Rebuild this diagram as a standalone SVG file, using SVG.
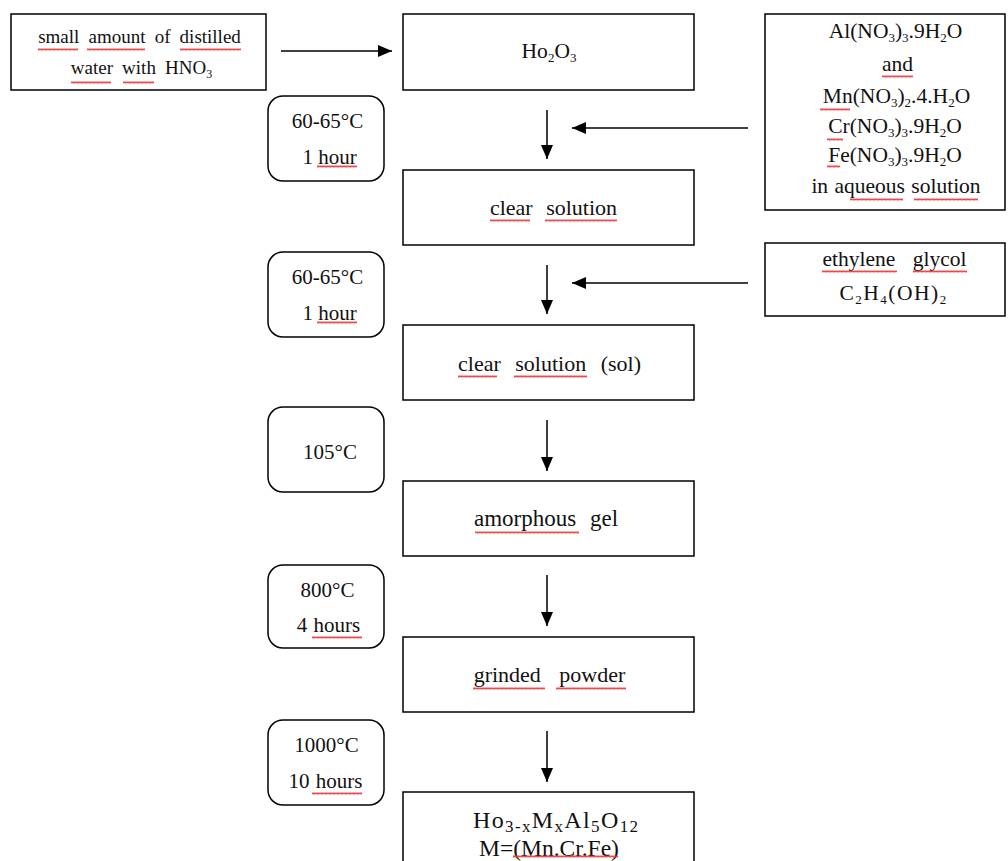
<svg xmlns="http://www.w3.org/2000/svg" width="1008" height="861" viewBox="0 0 1008 861">
<style>
.box{fill:#fff;stroke:#000;stroke-width:1.5}
.rbox{fill:#fff;stroke:#000;stroke-width:1.5}
text{font-family:"Liberation Serif","Times New Roman",serif;font-size:21px;fill:#111;text-anchor:middle}
.sub{font-size:13px}
.lt{font-size:19px;word-spacing:4.4px}
.rt{font-size:21.5px}
.mt{font-size:22px}
.conn line{stroke:#000;stroke-width:1.5}
.sq{fill:url(#zig)}
</style>
<defs>
<marker id="ah" viewBox="0 0 14 12" refX="14" refY="6" markerWidth="14" markerHeight="12" orient="auto" markerUnits="userSpaceOnUse">
<path d="M0,0 L14,6 L0,12 Z" fill="#000"/>
</marker>
<pattern id="zig" patternUnits="userSpaceOnUse" x="0" y="0" width="4" height="3">
<path d="M0,2.5 L1,0.5 L2,2.5 L3,0.5 L4,2.5" fill="none" stroke="#e33" stroke-width="0.9"/>
</pattern>
</defs>

<g id="connectors" class="conn">
<line x1="281" y1="51" x2="392" y2="51" marker-end="url(#ah)"/>
<line x1="547" y1="110" x2="547" y2="159" marker-end="url(#ah)"/>
<line x1="748" y1="128" x2="572" y2="128" marker-end="url(#ah)"/>
<line x1="547" y1="265" x2="547" y2="314" marker-end="url(#ah)"/>
<line x1="748" y1="283" x2="572" y2="283" marker-end="url(#ah)"/>
<line x1="547" y1="420" x2="547" y2="471" marker-end="url(#ah)"/>
<line x1="547" y1="575" x2="547" y2="626" marker-end="url(#ah)"/>
<line x1="547" y1="731" x2="547" y2="782" marker-end="url(#ah)"/>
</g>

<g id="water">
<rect class="box" x="11" y="14" width="255" height="76"/>
<text class="lt" x="139.5" y="43">small amount of distilled</text>
<text class="lt" x="141.5" y="74">water with HNO<tspan class="sub" style="font-size:12px" dy="4">3</tspan></text>
<rect class="sq" x="38" y="48" width="40" height="3"/>
<rect class="sq" x="87" y="48" width="58" height="3"/>
<rect class="sq" x="180" y="48" width="61" height="3"/>
<rect class="sq" x="71" y="81" width="40" height="3"/>
<rect class="sq" x="123" y="81" width="31" height="3"/>
</g>

<g id="ho2o3">
<rect class="box" x="403" y="14" width="291" height="76"/>
<text class="rt" x="549" y="58">Ho<tspan class="sub" dy="4">2</tspan><tspan dy="-4">O</tspan><tspan class="sub" dy="4">3</tspan></text>
</g>

<g id="nitrates">
<rect class="box" x="765" y="14" width="240" height="196"/>
<text class="rt" x="895.5" y="38">Al(NO<tspan class="sub" dy="4">3</tspan><tspan dy="-4">)</tspan><tspan class="sub" dy="4">3</tspan><tspan dy="-4">.9H</tspan><tspan class="sub" dy="4">2</tspan><tspan dy="-4">O</tspan></text>
<text class="rt" x="897.5" y="71">and</text>
<text class="rt" x="896.5" y="103">Mn(NO<tspan class="sub" dy="4">3</tspan><tspan dy="-4">)</tspan><tspan class="sub" dy="4">2</tspan><tspan dy="-4">.4.H</tspan><tspan class="sub" dy="4">2</tspan><tspan dy="-4">O</tspan></text>
<text class="rt" x="895" y="133">Cr(NO<tspan class="sub" dy="4">3</tspan><tspan dy="-4">)</tspan><tspan class="sub" dy="4">3</tspan><tspan dy="-4">.9H</tspan><tspan class="sub" dy="4">2</tspan><tspan dy="-4">O</tspan></text>
<text class="rt" x="895" y="162">Fe(NO<tspan class="sub" dy="4">3</tspan><tspan dy="-4">)</tspan><tspan class="sub" dy="4">3</tspan><tspan dy="-4">.9H</tspan><tspan class="sub" dy="4">2</tspan><tspan dy="-4">O</tspan></text>
<text class="rt" x="896" y="193" style="word-spacing:1px">in aqueous solution</text>
<rect class="sq" x="882" y="75" width="31" height="3"/>
<rect class="sq" x="820" y="108" width="30" height="3"/>
<rect class="sq" x="827" y="138" width="16" height="3"/>
<rect class="sq" x="827" y="165" width="13" height="3"/>
<rect class="sq" x="850" y="198" width="53" height="3"/>
<rect class="sq" x="914" y="198" width="64" height="3"/>
</g>

<g id="glycol">
<rect class="box" x="765" y="243" width="240" height="73"/>
<text class="rt" x="894.5" y="266" style="word-spacing:12px">ethylene glycol</text>
<text class="rt" x="893.5" y="300" style="letter-spacing:1.5px">C<tspan class="sub" dy="4">2</tspan><tspan dy="-4">H</tspan><tspan class="sub" dy="4">4</tspan><tspan dy="-4">(OH)</tspan><tspan class="sub" dy="4">2</tspan></text>
<rect class="sq" x="822" y="270" width="75" height="3"/>
<rect class="sq" x="913" y="270" width="54" height="3"/>
</g>

<g id="t1">
<rect class="rbox" x="268" y="96" width="116" height="85" rx="15"/>
<text x="327.5" y="128">60-65°C</text>
<text x="329.5" y="164">1 hour</text>
<rect class="sq" x="317" y="165" width="40" height="3"/>
</g>

<g id="clear1">
<rect class="box" x="403" y="170" width="291" height="75"/>
<text class="mt" x="553.5" y="215" style="word-spacing:8px">clear solution</text>
<rect class="sq" x="490" y="219" width="40" height="3"/>
<rect class="sq" x="545" y="219" width="72" height="3"/>
</g>

<g id="t2">
<rect class="rbox" x="268" y="252" width="116" height="85" rx="15"/>
<text x="327.5" y="284">60-65°C</text>
<text x="329.5" y="320">1 hour</text>
<rect class="sq" x="317" y="321" width="40" height="3"/>
</g>

<g id="clear2">
<rect class="box" x="403" y="325" width="291" height="75"/>
<text class="mt" x="549.5" y="371" style="word-spacing:9px">clear solution (sol)</text>
<rect class="sq" x="458" y="375" width="39" height="3"/>
<rect class="sq" x="514" y="375" width="73" height="3"/>
</g>

<g id="t3">
<rect class="rbox" x="268" y="407" width="116" height="85" rx="15"/>
<text x="330" y="459">105°C</text>
</g>

<g id="gel">
<rect class="box" x="403" y="481" width="291" height="75"/>
<text x="546" y="526" style="font-size:23px;word-spacing:8px">amorphous gel</text>
<rect class="sq" x="475" y="531" width="104" height="3"/>
</g>

<g id="t4">
<rect class="rbox" x="268" y="565" width="116" height="83" rx="15"/>
<text x="327.5" y="597">800°C</text>
<text x="328.5" y="632" style="word-spacing:1px">4 hours</text>
<rect class="sq" x="312" y="636" width="50" height="3"/>
</g>

<g id="powder">
<rect class="box" x="403" y="637" width="291" height="75"/>
<text class="mt" x="549.5" y="682" style="word-spacing:13px">grinded powder</text>
<rect class="sq" x="473" y="687" width="72" height="3"/>
<rect class="sq" x="556" y="687" width="70" height="3"/>
</g>

<g id="t5">
<rect class="rbox" x="268" y="720" width="116" height="85" rx="15"/>
<text x="326.5" y="752">1000°C</text>
<text x="325.5" y="788" style="word-spacing:1px">10 hours</text>
<rect class="sq" x="312" y="792" width="50" height="3"/>
</g>

<g id="product">
<rect class="box" x="403" y="792" width="291" height="80"/>
<text x="555.5" y="828" textLength="165" lengthAdjust="spacing" style="font-size:24px">Ho<tspan style="font-size:17px" dy="4">3-x</tspan><tspan dy="-4">M</tspan><tspan style="font-size:17px" dy="4">x</tspan><tspan dy="-4">Al</tspan><tspan style="font-size:17px" dy="4">5</tspan><tspan dy="-4">O</tspan><tspan style="font-size:17px" dy="4">12</tspan></text>
<text x="549" y="856" style="font-size:23.5px">M=(Mn.Cr.Fe)</text>
<rect class="sq" x="513" y="855" width="105" height="3"/>
</g>
</svg>
